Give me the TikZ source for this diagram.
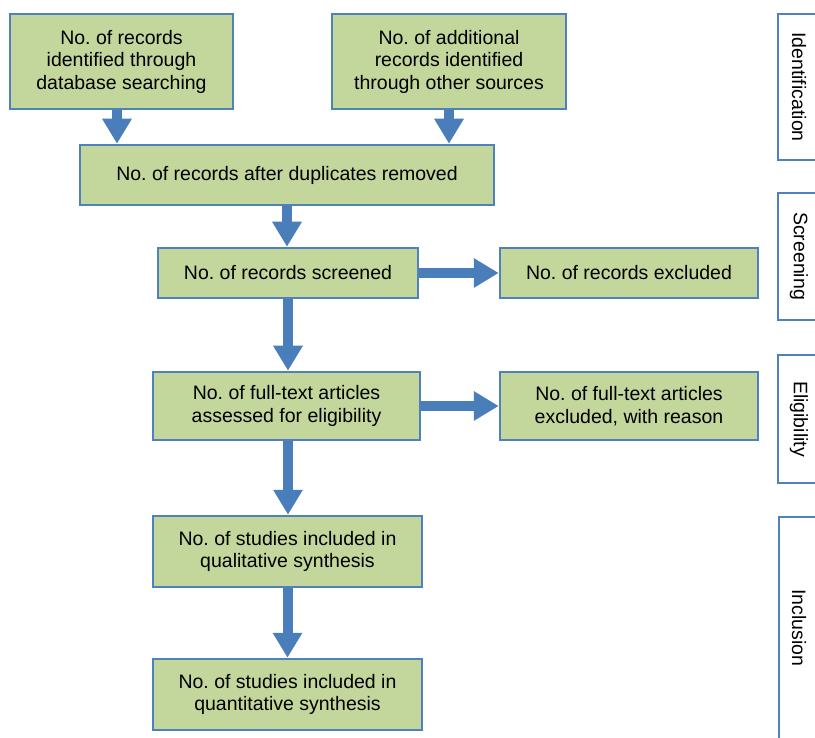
\documentclass[tikz,border=0pt]{standalone}
\usepackage{fontspec}
\setmainfont{Liberation Sans}
\frenchspacing
\usetikzlibrary{arrows.meta}
\definecolor{boxfill}{HTML}{C3D69B}
\definecolor{boxline}{HTML}{4F81BD}
\definecolor{arrowblue}{HTML}{4A7EBB}
\begin{document}
\begin{tikzpicture}[x=1pt,y=-1pt,
  box/.style={draw=boxline, line width=2.5pt, fill=boxfill, align=center,
    font=\fontsize{19.5}{22.5}\selectfont\frenchspacing, inner sep=0pt},
  flow/.style={draw=arrowblue, line width=10pt, arrowblue,
    -{Triangle[width=28pt,length=25pt]}},
  phase/.style={draw=boxline, line width=2pt, fill=white},
  phasetext/.style={font=\fontsize{19.5}{22}\selectfont, rotate=-90, inner sep=0pt}]
\useasboundingbox (0,0) rectangle (815,738);

% phase boxes
\draw[phase] (778,14) rectangle (840,160);
\draw[phase] (778,193) rectangle (840,320);
\draw[phase] (778,355) rectangle (840,483);
\draw[phase] (779,517) rectangle (840,760);
\node[phasetext] (pid) at (799,87) {Identification};
\node[phasetext] (psc) at (799,256) {Screening};
\node[phasetext] (pel) at (799,419) {Eligibility};
\node[phasetext] (pin) at (799,628) {Inclusion};

% boxes
\node[box, minimum width=223pt, minimum height=95pt] (A) at (121.5,61.5)
  {No. of records\\identified through\\database searching};
\node[box, minimum width=234pt, minimum height=95pt] (B) at (449,61.5)
  {No. of additional\\records identified\\through other sources};
\node[box, minimum width=414pt, minimum height=60pt] (C) at (287,175)
  {No. of records after duplicates removed};
\node[box, minimum width=260pt, minimum height=50pt] (D) at (288,273)
  {\raisebox{2pt}{No. of records screened}};
\node[box, minimum width=258pt, minimum height=50pt] (E) at (629,273)
  {\raisebox{2pt}{No. of records excluded}};
\node[box, minimum width=267pt, minimum height=68pt] (F) at (286.5,406)
  {No. of full-text articles\\assessed for eligibility};
\node[box, minimum width=258pt, minimum height=68pt] (G) at (629,406)
  {No. of full-text articles\\excluded, with reason};
\node[box, minimum width=269pt, minimum height=71pt] (H) at (287.5,551.5)
  {No. of studies included in\\qualitative synthesis};
\node[box, minimum width=269pt, minimum height=71pt] (I) at (287.5,694.5)
  {No. of studies included in\\quantitative synthesis};

% arrows
\draw[flow] ([xshift=-4.5pt]A.south) -- ([xshift=-4.5pt]A.south |- C.north);
\draw[flow] (B.south) -- (B.south |- C.north);
\draw[flow] (C.south) -- (C.south |- D.north);
\draw[flow] (D.east) -- (D.east -| E.west);
\draw[flow] (D.south) -- (D.south |- F.north);
\draw[flow] (F.east) -- (F.east -| G.west);
\draw[flow] ([xshift=1.5pt]F.south) -- ([xshift=1.5pt]F.south |- H.north);
\draw[flow] (H.south) -- (H.south |- I.north);
\end{tikzpicture}
\end{document}
